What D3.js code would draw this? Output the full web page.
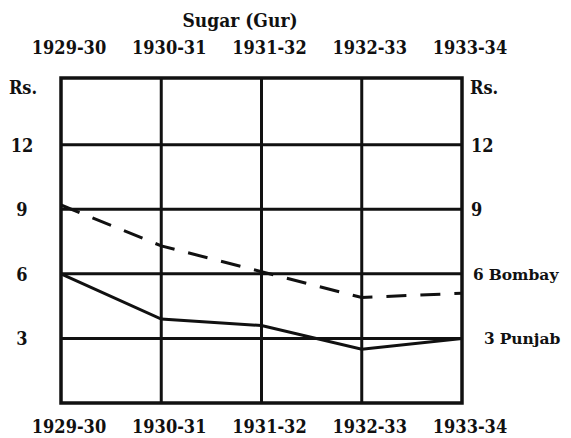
<!DOCTYPE html>
<html>
<head>
<meta charset="utf-8">
<script src="https://cdn.jsdelivr.net/npm/d3@7"></script>
<style>
  body { margin: 0; background: #fff; }
  text { font-family: "DejaVu Serif Condensed", "DejaVu Serif", serif; font-weight: bold; fill: #111; }
  .name { font-family: "DejaVu Serif", serif; }
</style>
</head>
<body>
<svg id="chart"></svg>
<script>
// data (Rs. per maund)
const years = ["1929-30", "1930-31", "1931-32", "1932-33", "1933-34"];
const bombay = [9.2, 7.3, 6.1, 4.9, 5.1];
const punjab = [6.0, 3.9, 3.6, 2.5, 3.0];
const yTicks = [3, 6, 9, 12];

const width = 571, height = 438;
const plotLeft = 61, plotRight = 462, plotTop = 78, plotBottom = 403;

const svg = d3.select("#chart")
  .attr("width", width)
  .attr("height", height);

const x = d3.scalePoint().domain(years).range([plotLeft, plotRight]);
const y = d3.scaleLinear().domain([0, 15.1]).range([plotBottom, plotTop]);

// grid
svg.append("g")
  .selectAll("line")
  .data(yTicks)
  .enter()
  .append("line")
  .attr("x1", plotLeft).attr("x2", plotRight)
  .attr("y1", d => y(d)).attr("y2", d => y(d))
  .style("stroke", "#111")
  .style("stroke-width", 3);

svg.append("g")
  .selectAll("line")
  .data(years.slice(1, -1))
  .enter()
  .append("line")
  .attr("x1", d => x(d)).attr("x2", d => x(d))
  .attr("y1", plotTop).attr("y2", plotBottom)
  .style("stroke", "#111")
  .style("stroke-width", 3);

svg.append("rect")
  .attr("x", plotLeft).attr("y", plotTop)
  .attr("width", plotRight - plotLeft).attr("height", plotBottom - plotTop)
  .style("fill", "none")
  .style("stroke", "#111")
  .style("stroke-width", 3.5);

// series
const line = d3.line()
  .x((d, i) => x(years[i]))
  .y(d => y(d));

svg.append("path")
  .attr("d", line(bombay))
  .style("fill", "none")
  .style("stroke", "#111")
  .style("stroke-width", 3)
  .style("stroke-dasharray", "20,14");

svg.append("path")
  .attr("d", line(punjab))
  .style("fill", "none")
  .style("stroke", "#111")
  .style("stroke-width", 3);

// titles and labels
svg.append("text")
  .attr("x", 240).attr("y", 27)
  .attr("text-anchor", "middle")
  .style("font-size", "19px")
  .text("Sugar (Gur)");

[54, 433].forEach(yy => {
  svg.append("g")
    .selectAll("text")
    .data(years)
    .enter()
    .append("text")
    .attr("x", d => x(d) + 8)
    .attr("y", yy)
    .attr("text-anchor", "middle")
    .style("font-size", "18px")
    .text(d => d);
});

svg.append("text").attr("x", 23).attr("y", 94).attr("text-anchor", "middle")
  .style("font-size", "18px").text("Rs.");
svg.append("text").attr("x", plotRight + 8).attr("y", 94)
  .style("font-size", "18px").text("Rs.");

svg.append("g")
  .selectAll("text")
  .data(yTicks)
  .enter()
  .append("text")
  .attr("x", 22)
  .attr("y", d => y(d) + 7)
  .attr("text-anchor", "middle")
  .style("font-size", "18px")
  .text(d => d);

svg.append("g")
  .selectAll("text")
  .data(yTicks.filter(d => d > 6))
  .enter()
  .append("text")
  .attr("x", plotRight + 9)
  .attr("y", d => y(d) + 7)
  .style("font-size", "18px")
  .text(d => d);

const seriesLabels = [
  { v: 6, name: "Bombay", dx: 11 },
  { v: 3, name: "Punjab", dx: 22 }
];
seriesLabels.forEach(s => {
  const t = svg.append("text")
    .attr("x", plotRight + s.dx)
    .attr("y", y(s.v) + 6)
    .style("font-size", "17px");
  t.append("tspan").text(s.v);
  t.append("tspan").attr("class", "name").attr("dx", 5).style("font-size", "15.5px").text(s.name);
});
</script>
</body>
</html>
